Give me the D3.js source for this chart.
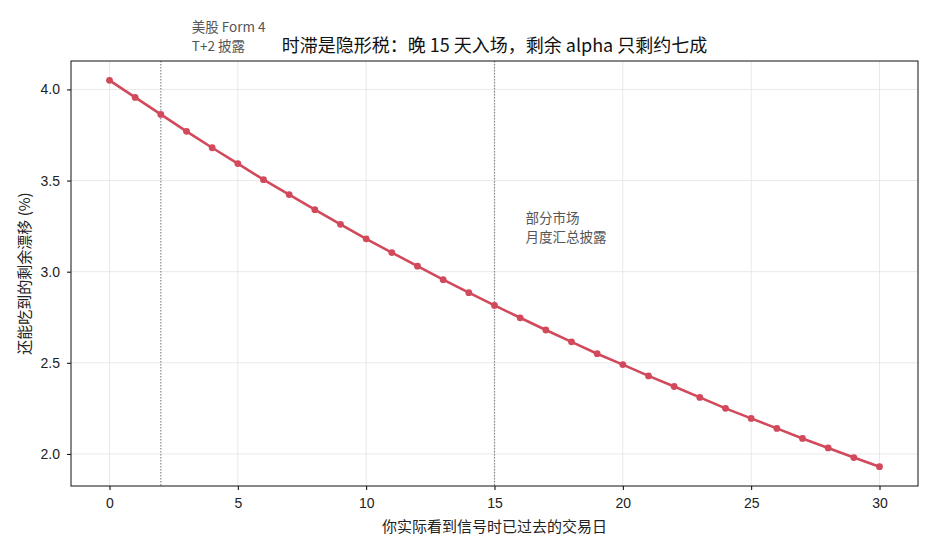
<!DOCTYPE html>
<html>
<head>
<meta charset="utf-8">
<script src="https://cdn.jsdelivr.net/npm/d3@7"></script>
<style>
  body { margin: 0; background: #fff; }
  svg { display: block; font-family: "Noto Sans CJK SC", "Noto Sans", sans-serif; }
</style>
</head>
<body>
<script>
// trading days elapsed and remaining drift (%)
const days = d3.range(0, 31)
const drift = [4.05, 3.956, 3.863, 3.77, 3.68, 3.593, 3.505, 3.423, 3.34, 3.26,
    3.18, 3.105, 3.03, 2.956, 2.885, 2.815, 2.747, 2.68, 2.615, 2.55,
    2.49, 2.428, 2.37, 2.31, 2.25, 2.195, 2.14, 2.085, 2.033, 1.98, 1.93]
const xTicks = [0, 5, 10, 15, 20, 25, 30]
const yTicks = [2.0, 2.5, 3.0, 3.5, 4.0]
const markers = [
    { day: 2, lines: ["美股 Form 4", "T+2 披露"] },
    { day: 15, lines: ["部分市场", "月度汇总披露"] }
]
const title = "时滞是隐形税：晚 15 天入场，剩余 alpha 只剩约七成"
const xLabel = "你实际看到信号时已过去的交易日"
const yLabel = "还能吃到的剩余漂移 (%)"

const width = 935
const height = 550
const marginLeft = 71
const marginRight = 17
const marginTop = 61
const marginBottom = 64

const data = days.map((d, i) => ({ day: d, value: drift[i] }))

const xPad = (d3.max(days) - d3.min(days)) * 0.05
const yExt = d3.extent(drift)
const yPad = (yExt[1] - yExt[0]) * 0.05

const x = d3.scaleLinear([d3.min(days) - xPad, d3.max(days) + xPad], [marginLeft, width - marginRight])
const y = d3.scaleLinear([yExt[0] - yPad, yExt[1] + yPad], [height - marginBottom, marginTop])

const svg = d3.select("body").append("svg")
    .attr("width", width)
    .attr("height", height)
    .attr("viewBox", [0, 0, width, height])

// grid
svg.append("g")
    .attr("stroke", "#e3e3e3")
    .attr("stroke-width", 0.8)
    .call(g => g.selectAll("line.v").data(xTicks).join("line")
        .attr("x1", d => x(d)).attr("x2", d => x(d))
        .attr("y1", marginTop).attr("y2", height - marginBottom))
    .call(g => g.selectAll("line.h").data(yTicks).join("line")
        .attr("x1", marginLeft).attr("x2", width - marginRight)
        .attr("y1", d => y(d)).attr("y2", d => y(d)))

// marker lines
svg.append("g")
    .selectAll("line")
    .data(markers)
    .join("line")
    .attr("x1", d => x(d.day)).attr("x2", d => x(d.day))
    .attr("y1", marginTop).attr("y2", height - marginBottom)
    .attr("stroke", "#888")
    .attr("stroke-width", 1.2)
    .attr("stroke-dasharray", "1.5,1.5")

// axes
svg.append("g")
    .attr("transform", `translate(0,${height - marginBottom})`)
    .call(d3.axisBottom(x).tickValues(xTicks).tickFormat(d3.format("d")).tickSize(4).tickPadding(8))
    .call(g => g.select(".domain").remove())
    .call(g => g.selectAll("text").attr("font-size", 14).attr("fill", "#222"))

svg.append("g")
    .attr("transform", `translate(${marginLeft},0)`)
    .call(d3.axisLeft(y).tickValues(yTicks).tickFormat(d3.format(".1f")).tickSize(4).tickPadding(7))
    .call(g => g.select(".domain").remove())
    .call(g => g.selectAll("text").attr("font-size", 14).attr("fill", "#222"))

svg.append("rect")
    .attr("x", marginLeft).attr("y", marginTop)
    .attr("width", width - marginLeft - marginRight)
    .attr("height", height - marginTop - marginBottom)
    .attr("fill", "none")
    .attr("stroke", "#111")
    .attr("stroke-width", 1)

// line + points
const line = d3.line().x(d => x(d.day)).y(d => y(d.value))
svg.append("path")
    .datum(data)
    .attr("fill", "none")
    .attr("stroke", "#d1495b")
    .attr("stroke-width", 2.6)
    .attr("d", line)

svg.append("g")
    .attr("fill", "#d1495b")
    .selectAll("circle")
    .data(data)
    .join("circle")
    .attr("cx", d => x(d.day))
    .attr("cy", d => y(d.value))
    .attr("r", 3.4)

// marker annotations
svg.append("g")
    .attr("font-size", 13.5)
    .attr("fill", "#555")
    .selectAll("text")
    .data(markers)
    .join("text")
    .attr("x", d => x(d.day) + 31)
    .attr("y", d => d.day === 2 ? 32 : 223)
    .call(t => t.selectAll("tspan").data(d => d.lines).join("tspan")
        .attr("x", function () { return this.parentNode.getAttribute("x") })
        .attr("dy", (d, i) => i === 0 ? 0 : 19)
        .text(d => d))

// title and labels
svg.append("text")
    .attr("x", (marginLeft + width - marginRight) / 2)
    .attr("y", 52)
    .attr("text-anchor", "middle")
    .attr("font-size", 18)
    .attr("fill", "#111")
    .text(title)

svg.append("text")
    .attr("x", (marginLeft + width - marginRight) / 2)
    .attr("y", 532)
    .attr("text-anchor", "middle")
    .attr("font-size", 15)
    .attr("fill", "#222")
    .text(xLabel)

svg.append("text")
    .attr("transform", `translate(30,${(marginTop + height - marginBottom) / 2}) rotate(-90)`)
    .attr("text-anchor", "middle")
    .attr("font-size", 15)
    .attr("fill", "#222")
    .text(yLabel)
</script>
</body>
</html>
